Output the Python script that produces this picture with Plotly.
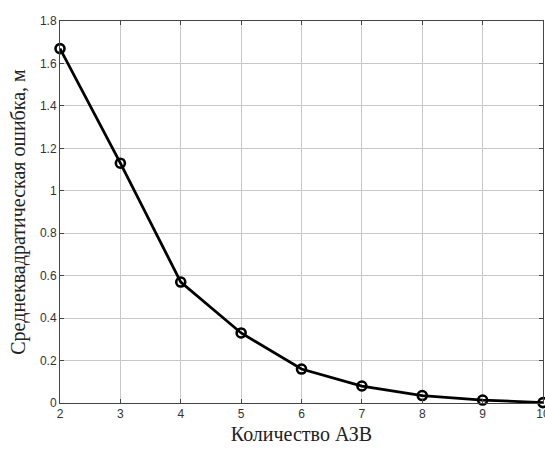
import plotly.graph_objects as go

x_vals = [2, 3, 4, 5, 6, 7, 8, 9, 10]
y_vals = [1.67, 1.13, 0.57, 0.33, 0.16, 0.08, 0.035, 0.014, 0.002]
x_ticks = [2, 3, 4, 5, 6, 7, 8, 9, 10]
y_ticks = [0, 0.2, 0.4, 0.6, 0.8, 1, 1.2, 1.4, 1.6, 1.8]
y_tick_text = ["0", "0.2", "0.4", "0.6", "0.8", "1", "1.2", "1.4", "1.6", "1.8"]

fig = go.Figure()
fig.add_trace(go.Scatter(
    x=x_vals, y=y_vals, mode="lines+markers",
    line=dict(color="black", width=2.8),
    marker=dict(symbol="circle-open", size=9, color="black", line=dict(width=2.6)),
    cliponaxis=False, showlegend=False,
))

axis_common = dict(
    showgrid=True, gridcolor="#c8c8c8", gridwidth=1,
    showline=True, linecolor="#444444", linewidth=1, mirror="ticks",
    ticks="inside", ticklen=4, tickcolor="#444444",
    tickfont=dict(family="Liberation Sans, Arial", size=12, color="#333333"),
    zeroline=False, ticklabeloverflow="allow", automargin=False,
)

fig.update_layout(
    width=545, height=450,
    margin=dict(l=60, r=2, t=21, b=47),
    plot_bgcolor="white", paper_bgcolor="white",
    xaxis=dict(range=[2, 10], tickvals=x_ticks, **axis_common,
               title=dict(text="Количество АЗВ", standoff=6,
                          font=dict(family="Liberation Serif, Times New Roman", size=20, color="#222222"))),
    yaxis=dict(range=[0, 1.8], tickvals=y_ticks, ticktext=y_tick_text, **axis_common,
               title=dict(text="Среднеквадратическая ошибка, м", standoff=8,
                          font=dict(family="Liberation Serif, Times New Roman", size=20, color="#222222"))),
)

fig.write_html("out.html")
